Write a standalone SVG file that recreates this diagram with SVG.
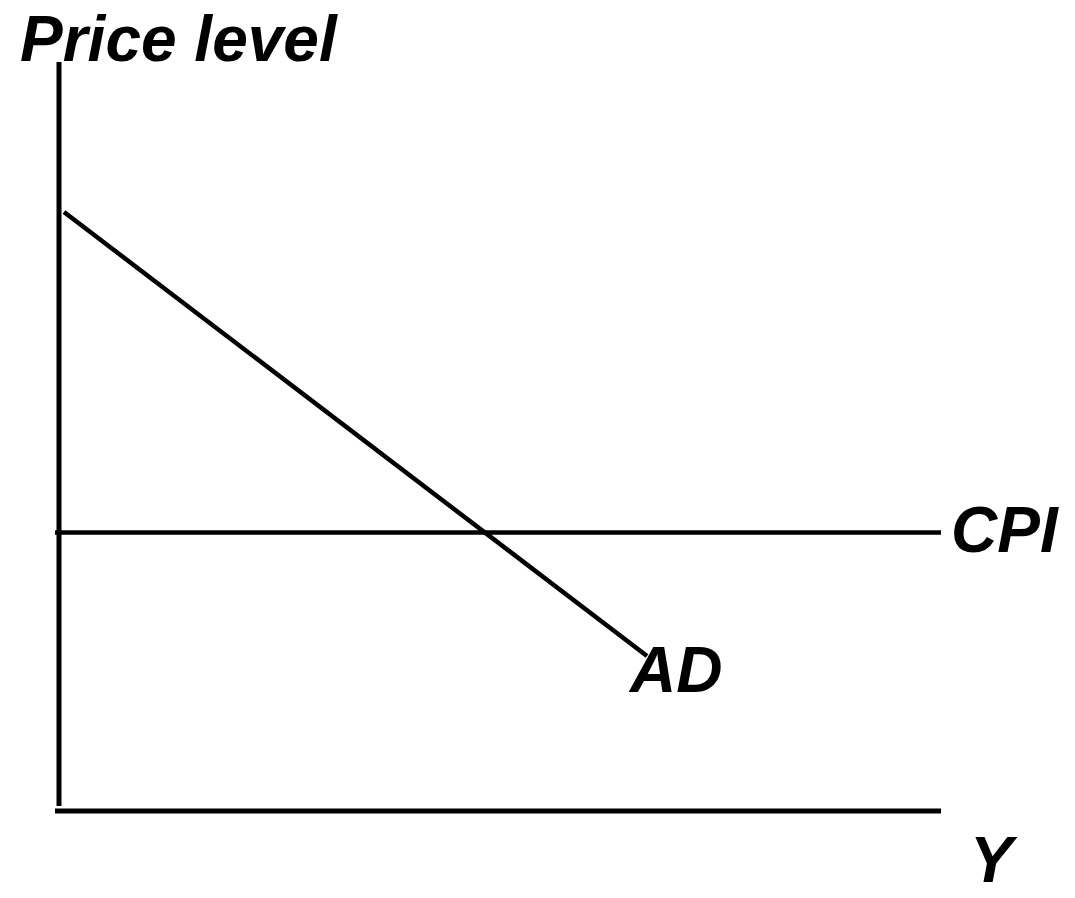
<svg xmlns="http://www.w3.org/2000/svg" width="1075" height="898" viewBox="0 0 1075 898">
<style>
.lbl{font-family:"Liberation Sans",Arial,sans-serif;font-weight:bold;font-style:italic;font-size:64px;fill:#000}
.ax{stroke:#000;stroke-width:5;fill:none}
.ln{stroke:#000;stroke-width:4.5;fill:none}
</style>
<rect width="1075" height="898" fill="#fff"/>
<g id="axes">
<line class="ax" x1="59" y1="62" x2="59" y2="806"/>
<line class="ax" x1="55" y1="811" x2="941" y2="811"/>
</g>
<g id="connectors">
<line id="cpi-line" class="ln" x1="55" y1="532.5" x2="941" y2="532.5"/>
<line id="ad-line" class="ln" x1="64" y1="212" x2="647" y2="656"/>
</g>
<g id="label-price"><text class="lbl" x="20" y="61">Price level</text></g>
<g id="label-cpi"><text class="lbl" x="951" y="552">CPI</text></g>
<g id="label-ad"><text class="lbl" x="630" y="692">AD</text></g>
<g id="label-y"><text class="lbl" x="970" y="882">Y</text></g>
</svg>
